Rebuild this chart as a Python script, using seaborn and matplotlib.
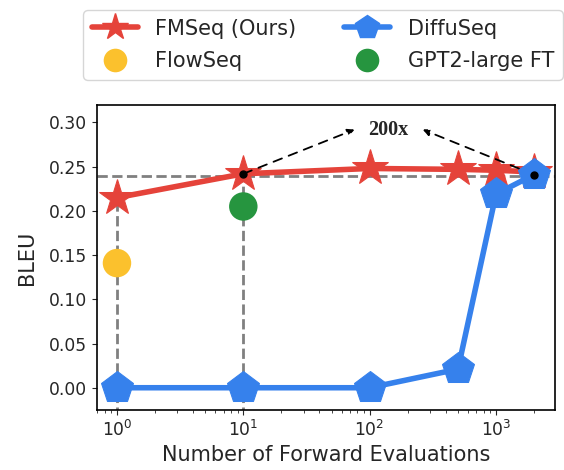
import numpy as np
import pandas as pd
import matplotlib
matplotlib.use('Agg')
import matplotlib.pyplot as plt
from matplotlib.lines import Line2D
import seaborn as sns

# data
nfe = [1, 10, 100, 500, 1000, 2000]
fmseq_bleu = [0.215, 0.242, 0.248, 0.247, 0.246, 0.244]
diffuseq_bleu = [0.0, 0.0, 0.0, 0.021, 0.219, 0.241]
flowseq_nfe = [1]
flowseq_bleu = [0.141]
gpt2_nfe = [10]
gpt2_bleu = [0.205]
ref_level = 0.240

red = '#E5433A'
blue = '#3681EC'
yellow = '#FBC12D'
green = '#26953F'

sns.set_style('ticks')
plt.rcParams['font.family'] = ['DejaVu Sans']

fig = plt.figure(figsize=(5.64, 4.70), dpi=100)
ax = fig.add_axes([0.172, 0.128, 0.812, 0.649])

df_fm = pd.DataFrame({'nfe': nfe, 'bleu': fmseq_bleu})
df_df = pd.DataFrame({'nfe': nfe, 'bleu': diffuseq_bleu})

# guide lines
ax.axhline(ref_level, color='grey', ls='--', lw=2, zorder=1)
ax.plot([1, 1], [-0.05, fmseq_bleu[0]], color='grey', ls='--', lw=2, zorder=1)
ax.plot([10, 10], [-0.05, fmseq_bleu[1]], color='grey', ls='--', lw=2, zorder=1)

sns.lineplot(data=df_fm, x='nfe', y='bleu', ax=ax, color=red, lw=4,
             marker='*', markersize=27, markeredgecolor=red, zorder=3,
             legend=False)
sns.lineplot(data=df_df, x='nfe', y='bleu', ax=ax, color=blue, lw=4,
             marker='p', markersize=24, markeredgecolor=blue, zorder=4,
             legend=False)
sns.scatterplot(x=flowseq_nfe, y=flowseq_bleu, ax=ax, color=yellow, s=420,
                edgecolor='none', zorder=3, legend=False)
sns.scatterplot(x=gpt2_nfe, y=gpt2_bleu, ax=ax, color=green, s=420,
                edgecolor='none', zorder=3, legend=False)

ax.set_xscale('log')
ax.set_xlim(0.695, 2930)
ax.set_ylim(-0.025, 0.32)
ax.set_yticks([0.0, 0.05, 0.10, 0.15, 0.20, 0.25, 0.30])
ax.set_yticklabels(['%.2f' % v for v in [0.0, 0.05, 0.10, 0.15, 0.20, 0.25, 0.30]])
ax.tick_params(labelsize=12.3)
ax.set_xlabel('Number of Forward Evaluations', fontsize=15)
ax.set_ylabel('BLEU', fontsize=15, labelpad=9)
for s in ax.spines.values():
    s.set_color('black')
    s.set_linewidth(1.2)

# 200x annotation
ax.plot([10, 2000], [fmseq_bleu[1], diffuseq_bleu[-1]], 'o', color='black',
        markersize=5, zorder=6)
ax.text(141, 0.291, '200x', ha='center', va='center', fontsize=14.5,
        fontweight='bold', family='Liberation Serif')
arrow = dict(arrowstyle='-|>', color='black', ls=(0, (5, 4)), lw=1.3,
             mutation_scale=10, shrinkA=0, shrinkB=0)
ax.annotate('', xy=(76, 0.292), xytext=(10, fmseq_bleu[1]), arrowprops=arrow)
ax.annotate('', xy=(263, 0.292), xytext=(2000, diffuseq_bleu[-1]), arrowprops=arrow)

handles = [
    Line2D([], [], color=red, lw=4, marker='*', markersize=20, markeredgecolor=red),
    Line2D([], [], color=yellow, lw=0, marker='o', markersize=17, markeredgecolor='none'),
    Line2D([], [], color=blue, lw=4, marker='p', markersize=18, markeredgecolor=blue),
    Line2D([], [], color=green, lw=0, marker='o', markersize=17, markeredgecolor='none'),
]
labs = ['FMSeq (Ours)', 'FlowSeq', 'DiffuSeq', 'GPT2-large FT']
ax.legend(handles, labs, ncol=2, fontsize=15,
          loc='upper left', bbox_to_anchor=(0.148, 0.978),
          bbox_transform=fig.transFigure, frameon=True, edgecolor='#cccccc',
          columnspacing=2.3, handlelength=2.2, handletextpad=0.85,
          labelspacing=0.6, borderaxespad=0)

fig.savefig('out.png', dpi=100)
